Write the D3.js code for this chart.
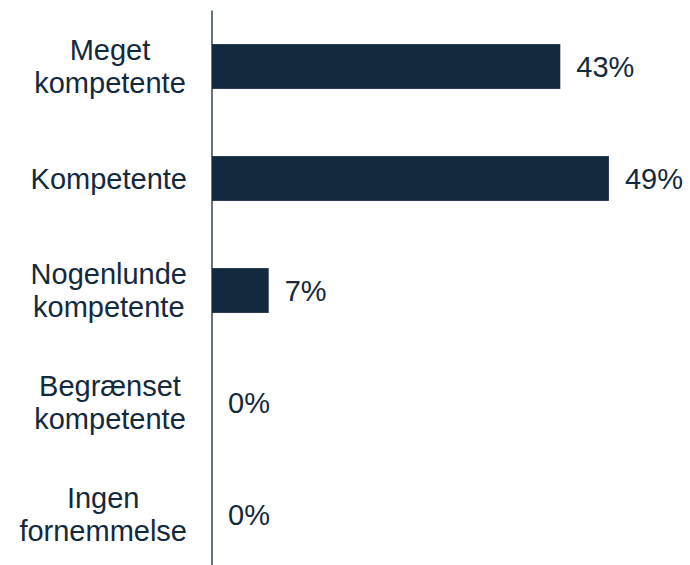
<!DOCTYPE html>
<meta charset="utf-8">
<script src="https://d3js.org/d3.v7.min.js"></script>
<style>
	body{
		margin:0;
		background:#fff;
		font-family: 'Liberation Sans', Arial, sans-serif;
	}
</style>
<div id="chart"></div>
<script>
	// data
	var categories = ["Meget kompetente","Kompetente","Nogenlunde kompetente","Begrænset kompetente","Ingen fornemmelse"]
	var labelLines = [["Meget","kompetente"],["Kompetente"],["Nogenlunde","kompetente"],["Begrænset","kompetente"],["Ingen","fornemmelse"]]
	var values = [43,49,7,0,0]

	var w = 690
	var h = 565
	var marginLeft = 212
	var marginTop = 10.5
	var color = "#13293d"
	var fontSize = 29
	var lineH = 32.5
	var labelCenter = 110
	var labelRight = 187

	var svg = d3.select("#chart").append("svg").attr("width",w).attr("height",h)

	var yScale = d3.scaleBand().domain(categories).range([marginTop,marginTop+560]).paddingInner(0.6).paddingOuter(0.3)
	var xScale = d3.scaleLinear().domain([0,50]).range([0,405])

	var g = svg.append("g").attr("transform","translate("+marginLeft+",0)")

	g.selectAll(".bar")
		.data(categories)
		.enter()
		.append("rect")
		.attr("class","bar")
		.attr("x",0)
		.attr("y",function(d){return yScale(d)})
		.attr("height",yScale.bandwidth())
		.attr("width",function(d,i){return xScale(values[i])})
		.attr("fill",color)

	// axis line
	g.append("line")
		.attr("x1",0).attr("x2",0)
		.attr("y1",marginTop).attr("y2",h)
		.attr("stroke",color).attr("stroke-width",1.3)

	// value labels
	g.selectAll(".val")
		.data(categories)
		.enter()
		.append("text")
		.attr("x",function(d,i){return xScale(values[i])+16})
		.attr("y",function(d){return yScale(d)+yScale.bandwidth()/2})
		.attr("dy","0.35em")
		.attr("fill",color)
		.style("font-size",fontSize+"px")
		.text(function(d,i){return values[i]+"%"})

	// category labels, centred but kept clear of the axis
	var cats = svg.selectAll(".cat")
		.data(categories)
		.enter()
		.append("text")
		.attr("class","cat")
		.attr("text-anchor","middle")
		.attr("fill",color)
		.style("font-size",fontSize+"px")

	cats.each(function(d,i){
		var lines = labelLines[i]
		var cy = yScale(d)+yScale.bandwidth()/2
		var start = cy - (lines.length-1)*lineH/2
		var spans = []
		for(var k=0; k<lines.length; k++){
			spans.push(d3.select(this).append("tspan")
				.attr("x",labelCenter)
				.attr("y",start+k*lineH)
				.attr("dy","0.35em")
				.text(lines[k]))
		}
		var maxW = d3.max(spans,function(s){return s.node().getComputedTextLength()})
		var cx = Math.min(labelCenter,labelRight-maxW/2)
		spans.forEach(function(s){s.attr("x",cx)})
	})
</script>
